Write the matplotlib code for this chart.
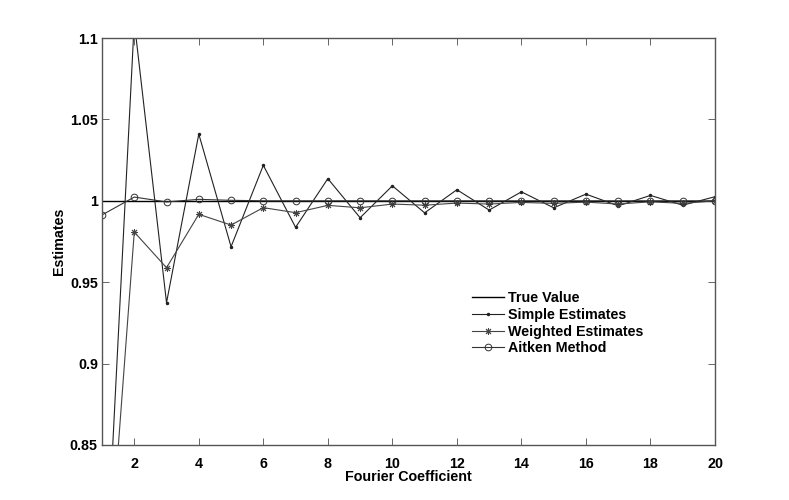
import numpy as np
import matplotlib
matplotlib.use('Agg')
import matplotlib.pyplot as plt

# valeurs
n = list(range(1, 21))
true_value = [1.0] * 20
simple = [0.72, 1.11, 0.9374, 1.041, 0.9718, 1.0218, 0.9837, 1.0136, 0.9896, 1.0092,
          0.9926, 1.0068, 0.9943, 1.0055, 0.9957, 1.0041, 0.9969, 1.0033, 0.9973, 1.0025]
weighted = [0.715, 0.9808, 0.9589, 0.9917, 0.9851, 0.9958, 0.9927, 0.9972, 0.9957, 0.998,
            0.9973, 0.9986, 0.998, 0.999, 0.9984, 0.9992, 0.998, 0.9994, 0.9984, 1.0]
aitken = [0.9913, 1.0023, 0.9993, 1.0009, 1.0003, 1.0, 1.0, 1.0, 1.0, 1.0,
          1.0, 1.0, 1.0, 1.0, 1.0, 1.0, 1.0, 1.0, 1.0, 1.0]

xticks = list(range(2, 21, 2))
yticks = [0.85, 0.9, 0.95, 1.0, 1.05, 1.1]
ytick_labels = ['0.85', '0.9', '0.95', '1', '1.05', '1.1']

plt.rcParams['font.family'] = ['Liberation Sans', 'DejaVu Sans']
plt.rcParams['font.weight'] = 'bold'
plt.rcParams['font.size'] = 10.3

fig = plt.figure(figsize=(7.89, 5.0), dpi=100)
ax = fig.add_axes([102 / 789, 1 - 445 / 500, 613 / 789, 407 / 500])

ax.plot(n, true_value, color='black', linewidth=1.0, label='True Value')
ax.plot(n, simple, color='#222222', linewidth=0.8, marker='.', markersize=3, label='Simple Estimates')
ax.plot(n, weighted, color='#444444', linewidth=0.8, marker=(8, 2, 0), markersize=5,
        markeredgewidth=0.7, label='Weighted Estimates')
ax.plot(n, aitken, color='#333333', linewidth=0.8, marker='o', markersize=4.8,
        markerfacecolor='none', markeredgewidth=0.7, label='Aitken Method')

ax.set_xlim(1, 20)
ax.set_ylim(0.85, 1.1)
ax.set_xticks(xticks)
ax.set_yticks(yticks)
ax.set_yticklabels(ytick_labels)
ax.tick_params(direction='in', length=5, width=0.7, color='#666666',
               top=True, right=True, labelsize=10.3)
ax.tick_params(axis='x', pad=8.5)
ax.tick_params(axis='y', pad=3)
for sp in ax.spines.values():
    sp.set_color('#555555')
    sp.set_linewidth(1.0)

ax.set_xlabel('Fourier Coefficient', fontweight='bold', labelpad=-0.5)
ax.set_ylabel('Estimates', fontweight='bold', labelpad=2.5)

ax.legend(loc='upper left', bbox_to_anchor=(0.604, 0.378), frameon=False,
          handlelength=2.2, handletextpad=0.3, labelspacing=0.19,
          borderpad=0, borderaxespad=0, prop={'weight': 'bold', 'size': 10.3})

fig.savefig('out.png', dpi=100)
